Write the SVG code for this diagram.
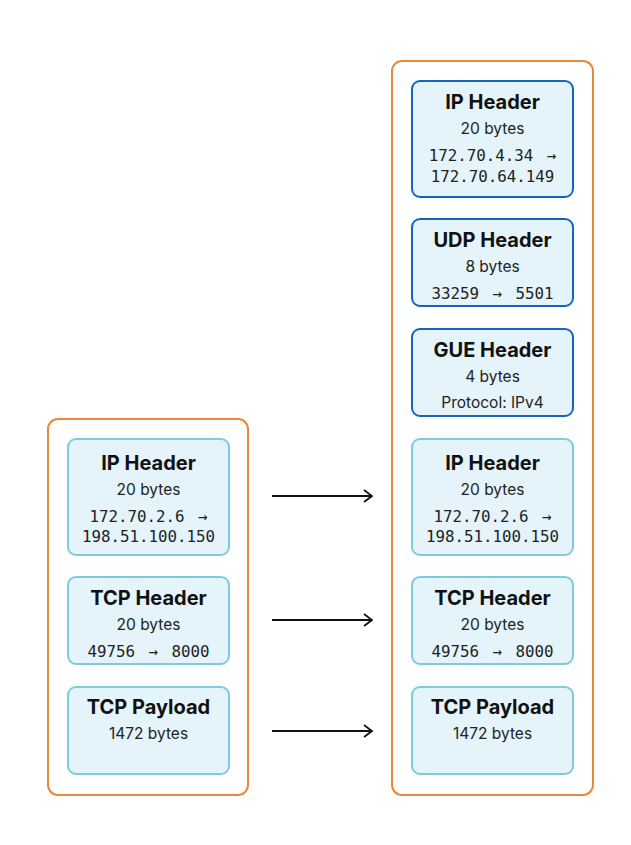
<svg xmlns="http://www.w3.org/2000/svg" width="631" height="845" viewBox="0 0 631 845">
<style>
.cont{fill:#fff;stroke:#E8883A;stroke-width:2}
.nd{fill:#E4F4FA;stroke-width:2}
.lt{stroke:#7ECBDD}
.dk{stroke:#1565C0}
.t{font-family:Inter,"Liberation Sans",sans-serif;font-weight:700;font-size:20px;fill:#111;text-anchor:middle}
.s{font-family:Inter,"Liberation Sans",sans-serif;font-size:15.5px;fill:#222;text-anchor:middle}
.m{font-family:"DejaVu Sans Mono","Liberation Mono",monospace;font-size:15.8px;fill:#222;text-anchor:middle;word-spacing:4px}
.c{stroke:#111;stroke-width:1.8;fill:none}
</style>
<defs>
<marker id="ah" viewBox="0 0 10 14" refX="9" refY="7" markerWidth="10" markerHeight="14" markerUnits="userSpaceOnUse" orient="auto">
<path d="M1,1 L9,7 L1,13" fill="none" stroke="#111" stroke-width="1.8"/>
</marker>
</defs>
<rect width="631" height="845" fill="#fff"/>
<g id="left-packet">
<rect class="cont" x="48" y="419" width="200" height="376" rx="10"/>
</g>
<g id="right-packet">
<rect class="cont" x="392" y="61" width="201" height="734" rx="10"/>
</g>
<g id="l-ip">
<rect class="nd lt" x="68" y="439" width="161" height="116" rx="8"/>
<text class="t" x="148.5" y="470">IP Header</text>
<text class="s" x="148.5" y="495">20 bytes</text>
<text class="m" x="148.5" y="522">172.70.2.6 →</text>
<text class="m" x="148.5" y="542">198.51.100.150</text>
</g>
<g id="l-tcp">
<rect class="nd lt" x="68" y="577" width="161" height="87" rx="8"/>
<text class="t" x="148.5" y="605">TCP Header</text>
<text class="s" x="148.5" y="630">20 bytes</text>
<text class="m" x="148.5" y="657">49756 → 8000</text>
</g>
<g id="l-payload">
<rect class="nd lt" x="68" y="687" width="161" height="87" rx="8"/>
<text class="t" x="148.5" y="714">TCP Payload</text>
<text class="s" x="148.5" y="739">1472 bytes</text>
</g>
<g id="r-outer-ip">
<rect class="nd dk" x="412" y="81" width="161" height="116" rx="8"/>
<text class="t" x="492.5" y="109">IP Header</text>
<text class="s" x="492.5" y="134">20 bytes</text>
<text class="m" x="492.5" y="161">172.70.4.34 →</text>
<text class="m" x="492.5" y="182">172.70.64.149</text>
</g>
<g id="r-udp">
<rect class="nd dk" x="412" y="219" width="161" height="87" rx="8"/>
<text class="t" x="492.5" y="247">UDP Header</text>
<text class="s" x="492.5" y="272">8 bytes</text>
<text class="m" x="492.5" y="299">33259 → 5501</text>
</g>
<g id="r-gue">
<rect class="nd dk" x="412" y="329" width="161" height="87" rx="8"/>
<text class="t" x="492.5" y="357">GUE Header</text>
<text class="s" x="492.5" y="382">4 bytes</text>
<text class="s" x="492.5" y="408">Protocol: IPv4</text>
</g>
<g id="r-ip">
<rect class="nd lt" x="412" y="439" width="161" height="116" rx="8"/>
<text class="t" x="492.5" y="470">IP Header</text>
<text class="s" x="492.5" y="495">20 bytes</text>
<text class="m" x="492.5" y="522">172.70.2.6 →</text>
<text class="m" x="492.5" y="542">198.51.100.150</text>
</g>
<g id="r-tcp">
<rect class="nd lt" x="412" y="577" width="161" height="87" rx="8"/>
<text class="t" x="492.5" y="605">TCP Header</text>
<text class="s" x="492.5" y="630">20 bytes</text>
<text class="m" x="492.5" y="657">49756 → 8000</text>
</g>
<g id="r-payload">
<rect class="nd lt" x="412" y="687" width="161" height="87" rx="8"/>
<text class="t" x="492.5" y="714">TCP Payload</text>
<text class="s" x="492.5" y="739">1472 bytes</text>
</g>
<g id="connectors">
<line class="c" x1="272" y1="496" x2="372" y2="496" marker-end="url(#ah)"/>
<line class="c" x1="272" y1="620" x2="372" y2="620" marker-end="url(#ah)"/>
<line class="c" x1="272" y1="731" x2="372" y2="731" marker-end="url(#ah)"/>
</g>
</svg>
